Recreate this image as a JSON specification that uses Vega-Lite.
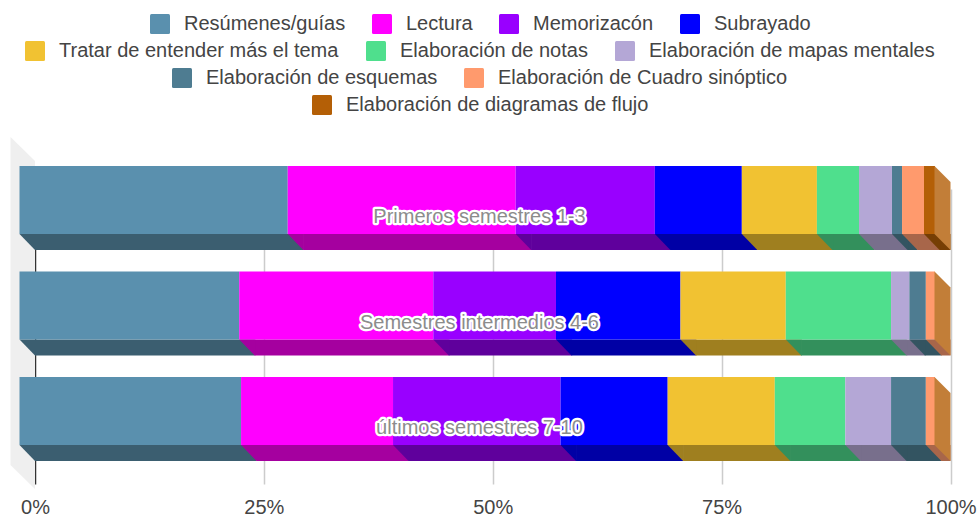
{"$schema":"https://vega.github.io/schema/vega-lite/v6.json","width":915.5,"height":328,"autosize":{"type":"none"},"padding":{"left":35,"top":161,"right":28.5,"bottom":27},"background":"white","config":{"view":{"stroke":null}},
"data":{"values":[
{"semestre":"Primeros semestres 1-3","metodo":"Resúmenes/guías","valor":29.3},
{"semestre":"Primeros semestres 1-3","metodo":"Lectura","valor":24.9},
{"semestre":"Primeros semestres 1-3","metodo":"Memorizacón","valor":15.2},
{"semestre":"Primeros semestres 1-3","metodo":"Subrayado","valor":9.5},
{"semestre":"Primeros semestres 1-3","metodo":"Tratar de entender más el tema","valor":8.2},
{"semestre":"Primeros semestres 1-3","metodo":"Elaboración de notas","valor":4.6},
{"semestre":"Primeros semestres 1-3","metodo":"Elaboración de mapas mentales","valor":3.6},
{"semestre":"Primeros semestres 1-3","metodo":"Elaboración de esquemas","valor":1.1},
{"semestre":"Primeros semestres 1-3","metodo":"Elaboración de Cuadro sinóptico","valor":2.4},
{"semestre":"Primeros semestres 1-3","metodo":"Elaboración de diagramas de flujo","valor":1.2},
{"semestre":"Semestres intermedios 4-6","metodo":"Resúmenes/guías","valor":24.0},
{"semestre":"Semestres intermedios 4-6","metodo":"Lectura","valor":21.2},
{"semestre":"Semestres intermedios 4-6","metodo":"Memorizacón","valor":13.4},
{"semestre":"Semestres intermedios 4-6","metodo":"Subrayado","valor":13.6},
{"semestre":"Semestres intermedios 4-6","metodo":"Tratar de entender más el tema","valor":11.5},
{"semestre":"Semestres intermedios 4-6","metodo":"Elaboración de notas","valor":11.5},
{"semestre":"Semestres intermedios 4-6","metodo":"Elaboración de mapas mentales","valor":2.0},
{"semestre":"Semestres intermedios 4-6","metodo":"Elaboración de esquemas","valor":1.8},
{"semestre":"Semestres intermedios 4-6","metodo":"Elaboración de Cuadro sinóptico","valor":1.0},
{"semestre":"últimos semestres 7-10","metodo":"Resúmenes/guías","valor":24.2},
{"semestre":"últimos semestres 7-10","metodo":"Lectura","valor":16.6},
{"semestre":"últimos semestres 7-10","metodo":"Memorizacón","valor":18.3},
{"semestre":"últimos semestres 7-10","metodo":"Subrayado","valor":11.7},
{"semestre":"últimos semestres 7-10","metodo":"Tratar de entender más el tema","valor":11.7},
{"semestre":"últimos semestres 7-10","metodo":"Elaboración de notas","valor":7.7},
{"semestre":"últimos semestres 7-10","metodo":"Elaboración de mapas mentales","valor":5.0},
{"semestre":"últimos semestres 7-10","metodo":"Elaboración de esquemas","valor":3.8},
{"semestre":"últimos semestres 7-10","metodo":"Elaboración de Cuadro sinóptico","valor":1.0}
]},
"transform":[{"stack":"valor","groupby":["semestre"],"as":["x0","x1"]}],
"encoding":{"y":{"field":"semestre","type":"nominal","sort":null,"axis":null,"scale":{"type":"band","domain":["Primeros semestres 1-3","Semestres intermedios 4-6","últimos semestres 7-10"],"range":[5,300],"paddingInner":0.2038,"paddingOuter":0}}},
"resolve":{"scale":{"color":"independent"},"legend":{"color":"independent"}},
"layer":[
{"transform":[{"filter":"datum.metodo==='Resúmenes/guías' && datum.semestre==='Semestres intermedios 4-6'"}],
 "mark":{"type":"point","filled":true,"fill":"#efefef","opacity":1,"strokeWidth":0,"size":256,"shape":"M-3.0625,-22.06L0,-19.06L0,21.94L-3.0625,18.94Z"},
 "encoding":{"x":{"datum":0,"type":"quantitative","scale":{"domain":[0,100]},"axis":{"values":[0,25,50,75,100],"title":null,"domain":false,"ticks":false,"labelFlush":false,"labelOverlap":false,"labelBound":false,"labelExpr":"datum.value+'%'","labelFont":"Liberation Sans","labelFontSize":20,"labelColor":"#444444","labelPadding":8,"grid":true,"gridWidth":1.5,"gridColor":{"condition":{"test":"datum.value===0","value":"#333333"},"value":"#cccccc"}}}}},
{"mark":{"type":"rect","height":16,"yOffset":34},
 "encoding":{"x":{"field":"x0","type":"quantitative"},"x2":{"field":"x1"},
 "color":{"field":"metodo","type":"nominal","legend":null,"scale":{"domain":["Resúmenes/guías","Lectura","Memorizacón","Subrayado","Tratar de entender más el tema","Elaboración de notas","Elaboración de mapas mentales","Elaboración de esquemas","Elaboración de Cuadro sinóptico","Elaboración de diagramas de flujo"],"range":["#3b5e70","#a5009f","#5f009c","#0000a5","#9f7f1f","#33905c","#786f8c","#335461","#a8664a","#763e04"]}}}},
{"mark":{"type":"point","filled":true,"opacity":1,"strokeWidth":0,"size":256,"yOffset":34,"shape":"M-1.9375,-1L0,1L0.08,1L0.08,-1Z"},
 "encoding":{"x":{"field":"x0","type":"quantitative"},
 "color":{"field":"metodo","type":"nominal","legend":null,"scale":{"domain":["Resúmenes/guías","Lectura","Memorizacón","Subrayado","Tratar de entender más el tema","Elaboración de notas","Elaboración de mapas mentales","Elaboración de esquemas","Elaboración de Cuadro sinóptico","Elaboración de diagramas de flujo"],"range":["#3b5e70","#a5009f","#5f009c","#0000a5","#9f7f1f","#33905c","#786f8c","#335461","#a8664a","#763e04"]}}}},
{"transform":[{"filter":{"field":"metodo","oneOf":["Resúmenes/guías","Lectura","Memorizacón","Subrayado"]}}],
 "mark":{"type":"rect","height":68,"yOffset":-8,"xOffset":-15.5,"x2Offset":-15.5},
 "encoding":{"x":{"field":"x0","type":"quantitative"},"x2":{"field":"x1"},
 "color":{"field":"metodo","type":"nominal","scale":{"domain":["Resúmenes/guías","Lectura","Memorizacón","Subrayado"],"range":["#5a90ae","#ff00ff","#9900ff","#0000ff"]},
 "legend":{"orient":"none","legendX":115,"legendY":-147,"direction":"horizontal","columns":4,"title":null,"labelFont":"Liberation Sans","labelFontSize":20,"labelColor":"#444444","labelLimit":600,"symbolType":"M-0.85,-1L0.85,-1Q1,-1 1,-0.85L1,0.85Q1,1 0.85,1L-0.85,1Q-1,1 -1,0.85L-1,-0.85Q-1,-1 -0.85,-1Z","symbolSize":400,"symbolStrokeWidth":0,"labelOffset":14,"columnPadding":26}}}},
{"transform":[{"filter":{"field":"metodo","oneOf":["Tratar de entender más el tema","Elaboración de notas","Elaboración de mapas mentales"]}}],
 "mark":{"type":"rect","height":68,"yOffset":-8,"xOffset":-15.5,"x2Offset":-15.5},
 "encoding":{"x":{"field":"x0","type":"quantitative"},"x2":{"field":"x1"},
 "color":{"field":"metodo","type":"nominal","scale":{"domain":["Tratar de entender más el tema","Elaboración de notas","Elaboración de mapas mentales"],"range":["#f1c232","#4fdf8d","#b4a7d6"]},
 "legend":{"orient":"none","legendX":-10,"legendY":-120,"direction":"horizontal","columns":3,"title":null,"labelFont":"Liberation Sans","labelFontSize":20,"labelColor":"#444444","labelLimit":600,"symbolType":"M-0.85,-1L0.85,-1Q1,-1 1,-0.85L1,0.85Q1,1 0.85,1L-0.85,1Q-1,1 -1,0.85L-1,-0.85Q-1,-1 -0.85,-1Z","symbolSize":400,"symbolStrokeWidth":0,"labelOffset":14,"columnPadding":27}}}},
{"transform":[{"filter":{"field":"metodo","oneOf":["Elaboración de esquemas","Elaboración de Cuadro sinóptico"]}}],
 "mark":{"type":"rect","height":68,"yOffset":-8,"xOffset":-15.5,"x2Offset":-15.5},
 "encoding":{"x":{"field":"x0","type":"quantitative"},"x2":{"field":"x1"},
 "color":{"field":"metodo","type":"nominal","scale":{"domain":["Elaboración de esquemas","Elaboración de Cuadro sinóptico"],"range":["#4e7c91","#ff9a6d"]},
 "legend":{"orient":"none","legendX":137,"legendY":-93,"direction":"horizontal","columns":2,"title":null,"labelFont":"Liberation Sans","labelFontSize":20,"labelColor":"#444444","labelLimit":600,"symbolType":"M-0.85,-1L0.85,-1Q1,-1 1,-0.85L1,0.85Q1,1 0.85,1L-0.85,1Q-1,1 -1,0.85L-1,-0.85Q-1,-1 -0.85,-1Z","symbolSize":400,"symbolStrokeWidth":0,"labelOffset":14,"columnPadding":26}}}},
{"transform":[{"filter":{"field":"metodo","oneOf":["Elaboración de diagramas de flujo"]}}],
 "mark":{"type":"rect","height":68,"yOffset":-8,"xOffset":-15.5,"x2Offset":-15.5},
 "encoding":{"x":{"field":"x0","type":"quantitative"},"x2":{"field":"x1"},
 "color":{"field":"metodo","type":"nominal","scale":{"domain":["Elaboración de diagramas de flujo"],"range":["#b45f06"]},
 "legend":{"orient":"none","legendX":277,"legendY":-66,"direction":"horizontal","columns":1,"title":null,"labelFont":"Liberation Sans","labelFontSize":20,"labelColor":"#444444","labelLimit":600,"symbolType":"M-0.85,-1L0.85,-1Q1,-1 1,-0.85L1,0.85Q1,1 0.85,1L-0.85,1Q-1,1 -1,0.85L-1,-0.85Q-1,-1 -0.85,-1Z","symbolSize":400,"symbolStrokeWidth":0,"labelOffset":14,"columnPadding":27}}}},
{"transform":[{"filter":"datum.metodo==='Resúmenes/guías'"}],
 "mark":{"type":"point","filled":true,"fill":"#c27e38","opacity":1,"strokeWidth":0,"size":256,"shape":"M-2,-5.25L0,-3.25L0,5.25L-2,3.25Z"},
 "encoding":{"x":{"datum":100,"type":"quantitative"}}},
{"transform":[{"filter":"datum.metodo==='Resúmenes/guías'"}],
 "mark":{"type":"text","font":"Liberation Sans","fontSize":20,"fill":"#ffffff","stroke":"#ffffff","strokeWidth":4.5,"strokeJoin":"round","yOffset":9,"baseline":"middle"},
 "encoding":{"x":{"datum":48.55,"type":"quantitative"},"text":{"field":"semestre","type":"nominal"}}},
{"transform":[{"filter":"datum.metodo==='Resúmenes/guías'"}],
 "mark":{"type":"text","font":"Liberation Sans","fontSize":20,"fill":"#8c8c8c","yOffset":9,"baseline":"middle"},
 "encoding":{"x":{"datum":48.55,"type":"quantitative"},"text":{"field":"semestre","type":"nominal"}}}
]}
